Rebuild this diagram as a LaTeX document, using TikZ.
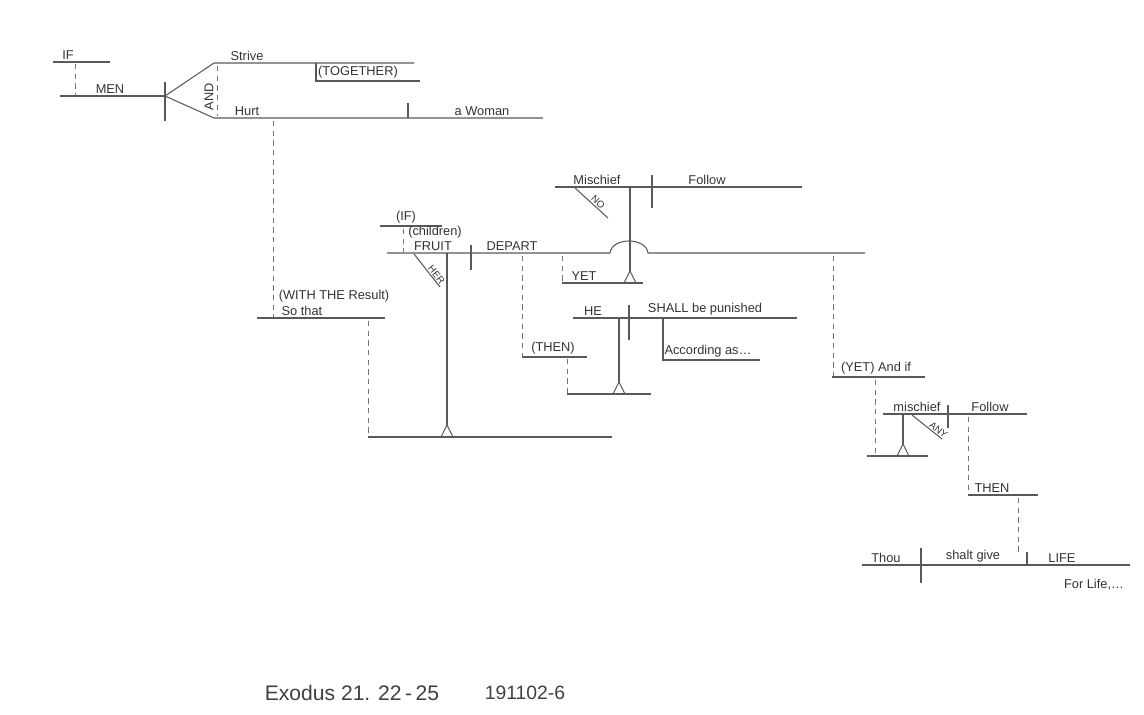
\documentclass[tikz,border=0pt]{standalone}
\usepackage{fontspec}
\setsansfont{Liberation Sans}
\tikzset{
  base/.style={line width=0.6pt, black!65},
  link/.style={line width=0.5pt, black!55, dash pattern=on 3pt off 2.5pt},
  word/.style={font=\sffamily\fontsize{7.3}{8}\selectfont, text=black!80, inner sep=1.2pt, anchor=south},
  slant/.style={word, font=\sffamily\fontsize{5.5}{6}\selectfont, sloped, inner sep=0.6pt},
  foot/.pic={\draw[base] (-6,0) -- (0,-12) -- (6,0);}
}
\begin{document}
\begin{tikzpicture}[x=0.02cm, y=-0.02cm]
    \useasboundingbox (0,0) rectangle (1144,715);
    % protasis: if men strive and hurt
    \coordinate (if-l) at (53,62);   \coordinate (if-r) at (110,62);
    \coordinate (men-l) at (60,96);  \coordinate (men-r) at (165,96);
    \coordinate (strive-l) at (214,63); \coordinate (strive-r) at (414,63);
    \coordinate (hurt-l) at (214,118);  \coordinate (hurt-r) at (543,118);
    \coordinate (tog-t) at (316,63); \coordinate (tog-b) at (316,81); \coordinate (tog-r) at (420,81);
    \draw[base] (if-l) -- (if-r);
    \draw[base] (men-l) -- (men-r);
    \draw[base] (165,82) -- (165,121);
    \draw[base] (men-r) -- (strive-l) -- (strive-r);
    \draw[base] (men-r) -- (hurt-l) -- (hurt-r);
    \draw[base] (tog-t) -- (tog-b) -- (tog-r);
    \draw[base] (408,103) -- (408,118);
    \draw[link] (75,64) -- (75,95);
    \draw[link] (217,66) -- (217,116);
    \node[word] (w-if) at (68,62) {IF};
    \node[word] (w-men) at (110,96) {MEN};
    \node[word] (w-strive) at (247,63) {Strive};
    \node[word] (w-tog) at (358,81) {(TOGETHER)};
    \node[word, rotate=90, anchor=center] (w-and) at (209,97) {AND};
    \node[word] (w-hurt) at (247,118) {Hurt};
    \node[word] (w-woman) at (482,118) {a Woman};
    % so that
    \coordinate (so-l) at (257,318); \coordinate (so-r) at (385,318);
    \draw[link] (273,121) -- (273,317);
    \draw[base] (so-l) -- (so-r);
    \node[word] (w-so) at (302,318) {So that};
    \node[word] (w-with) at (334,305) {(WITH THE Result)};
    \draw[link] (368,321) -- (368,437);
    \coordinate (bot-l) at (368,437); \coordinate (bot-r) at (612,437);
    \draw[base] (bot-l) -- (bot-r);
    % fruit depart
    \draw[base] (380,226) -- (442,226);
    \node[word] (w-if2) at (406,226) {(IF)};
    \draw[link] (403,229) -- (403,252);
    \coordinate (fr-l) at (387,253); \coordinate (bump-l) at (610,253);
    \coordinate (bump-r) at (648,253); \coordinate (fr-r) at (865,253);
    \draw[base] (fr-l) -- (bump-l) .. controls (612,237) and (646,237) .. (bump-r) -- (fr-r);
    \draw[base] (471,245) -- (471,270);
    \node[word] (w-child) at (435,241) {(children)};
    \node[word] (w-fruit) at (433,253) {FRUIT};
    \node[word] (w-depart) at (512,253) {DEPART};
    \draw[base] (414,254) -- node[slant, pos=.72] {HER} (440,287);
    \draw[base] (447,253) -- (447,425);
    \pic at (447,437) {foot};
    % no mischief follow
    \coordinate (mi-l) at (555,187); \coordinate (mi-r) at (802,187);
    \draw[base] (mi-l) -- (mi-r);
    \draw[base] (652,175) -- (652,208);
    \node[word] (w-mis) at (597,187) {Mischief};
    \node[word] (w-fol) at (707,187) {Follow};
    \draw[base] (575,188) -- node[slant, pos=.6] {NO} (608,218);
    \draw[base] (630,187) -- (630,271);
    \draw[link] (562,256) -- (562,282);
    \draw[base] (562,283) -- (643,283);
    \node[word] (w-yet) at (584,283) {YET};
    \pic at (630,283) {foot};
    % then he shall be punished
    \draw[link] (522,256) -- (522,356);
    \draw[base] (522,357) -- (587,357);
    \node[word] (w-then) at (553,357) {(THEN)};
    \draw[link] (567,359) -- (567,393);
    \draw[base] (567,394) -- (651,394);
    \coordinate (he-l) at (573,318); \coordinate (he-r) at (797,318);
    \draw[base] (he-l) -- (he-r);
    \draw[base] (629,305) -- (629,340);
    \node[word] (w-he) at (593,318) {HE};
    \node[word] (w-shall) at (705,318) {SHALL be punished};
    \draw[base] (663,318) -- (663,360) -- (760,360);
    \node[word] (w-acc) at (708,360) {According as\dots};
    \draw[base] (619,318) -- (619,382);
    \pic at (619,394) {foot};
    % yet and if any mischief follow
    \draw[link] (833,256) -- (833,376);
    \draw[base] (832,377) -- (925,377);
    \node[word] (w-yetif) at (876,377) {(YET) And if};
    \draw[link] (875,380) -- (875,455);
    \draw[base] (867,456) -- (928,456);
    \draw[base] (883,414) -- (1027,414);
    \draw[base] (948,405) -- (948,428);
    \node[word] (w-mis2) at (917,414) {mischief};
    \node[word] (w-fol2) at (990,414) {Follow};
    \draw[base] (912,415) -- node[slant, pos=.78] {ANY} (942,439);
    \draw[base] (903,414) -- (903,444);
    \pic at (903,456) {foot};
    \draw[link] (968,417) -- (968,494);
    \draw[base] (968,495) -- (1038,495);
    \node[word] (w-then2) at (992,495) {THEN};
    \draw[link] (1018,498) -- (1018,553);
    % thou shalt give life
    \draw[base] (862,565) -- (1130,565);
    \draw[base] (921,548) -- (921,583);
    \draw[base] (1027,552) -- (1027,565);
    \node[word] (w-thou) at (886,565) {Thou};
    \node[word] (w-give) at (973,565) {shalt give};
    \node[word] (w-life) at (1062,565) {LIFE};
    \node[word, anchor=center] (w-forlife) at (1094,585) {For Life,\dots};
    % reference
    \node[font=\sffamily\fontsize{12}{14}\selectfont, text=black!75] (ref) at (352,693) {Exodus 21. 22\,-\,25};
    \node[font=\sffamily\fontsize{11}{14}\selectfont, text=black!75] (num) at (525,693) {191102-6};
\end{tikzpicture}
\end{document}
